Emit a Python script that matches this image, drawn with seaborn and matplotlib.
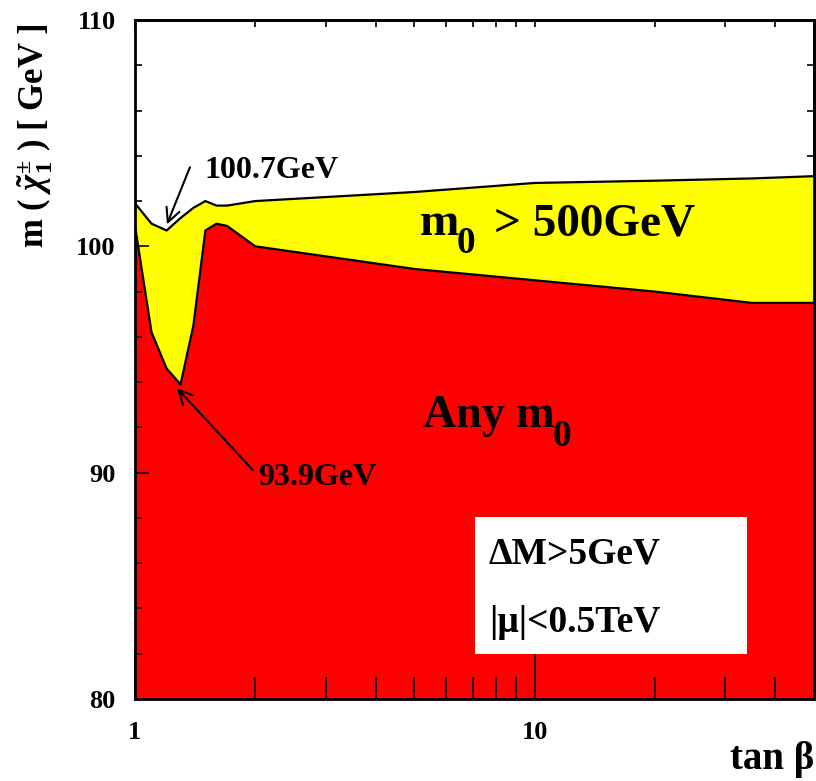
import numpy as np
import seaborn as sns
import matplotlib
matplotlib.use('Agg')
import matplotlib.pyplot as plt
from matplotlib.patches import Rectangle
from matplotlib.ticker import FixedLocator, NullFormatter
from matplotlib.transforms import offset_copy

# tan(beta) grid and chargino mass limits
tanb = [1.0, 1.1, 1.2, 1.3, 1.4, 1.5, 1.6, 1.7, 2.0, 5.0, 10.0, 20.0, 35.0, 50.0]
m_heavy_m0 = [101.9, 101.0, 100.7, 101.25, 101.7, 102.0, 101.8, 101.8, 102.0, 102.4, 102.8, 102.9, 103.0, 103.1]
m_any_m0 = [100.9, 96.2, 94.6, 93.9, 96.5, 100.7, 101.0, 100.9, 100.0, 99.0, 98.5, 98.0, 97.5, 97.5]

x_major = [1, 10]
x_minor = [2, 3, 4, 5, 6, 7, 8, 9, 20, 30, 40]
y_major = [80, 90, 100, 110]
y_minor = [82, 84, 86, 88, 92, 94, 96, 98, 102, 104, 106, 108]

sns.set_style('ticks')
plt.rcParams['font.family'] = ['Liberation Serif', 'DejaVu Serif']
plt.rcParams['font.weight'] = 'bold'
plt.rcParams['text.color'] = 'black'
plt.rcParams['axes.labelcolor'] = 'black'
plt.rcParams['xtick.color'] = 'black'
plt.rcParams['ytick.color'] = 'black'
plt.rcParams['mathtext.fontset'] = 'custom'
plt.rcParams['mathtext.rm'] = 'Liberation Serif:bold'
plt.rcParams['mathtext.it'] = 'Liberation Serif:italic:bold'
plt.rcParams['mathtext.bf'] = 'Liberation Serif:bold'

W, H = 816, 781
fig = plt.figure(figsize=(W / 100, H / 100), dpi=100)
ax = fig.add_axes([135 / W, (H - 699) / H, 679 / W, 679 / H])
ax.set_axisbelow(False)

ax.set_xscale('log')
ax.set_xlim(1, 50)
ax.set_ylim(80, 110)

ax.fill_between(tanb, 80, m_any_m0, color='#ff0000', lw=0, zorder=1)
ax.fill_between(tanb, m_any_m0, m_heavy_m0, color='#ffff00', lw=0, zorder=1)
sns.lineplot(x=tanb, y=m_any_m0, ax=ax, color='black', lw=1.6, sort=False, zorder=2)
sns.lineplot(x=tanb, y=m_heavy_m0, ax=ax, color='black', lw=1.6, sort=False, zorder=2)

# ticks
ax.xaxis.set_major_locator(FixedLocator(x_major))
ax.xaxis.set_minor_locator(FixedLocator(x_minor))
ax.xaxis.set_minor_formatter(NullFormatter())
ax.set_xticklabels([str(v) for v in x_major])
ax.yaxis.set_major_locator(FixedLocator(y_major))
ax.yaxis.set_minor_locator(FixedLocator(y_minor))
ax.set_yticklabels([str(v) for v in y_major])
ax.tick_params(axis='x', which='major', direction='in', length=33, width=1.2, pad=16,
               labelsize=19, top=False)
ax.tick_params(axis='x', which='minor', direction='in', length=16, width=1.2, top=False)
ax.tick_params(axis='y', which='major', direction='in', length=10, width=1.2, pad=14,
               labelsize=19, right=False)
ax.tick_params(axis='y', which='minor', direction='in', length=5, width=1.2, right=False)
for t in ax.get_xticklabels() + ax.get_yticklabels():
    t.set_fontweight('bold')

top = ax.secondary_xaxis('top')
top.xaxis.set_major_locator(FixedLocator(x_major))
top.xaxis.set_minor_locator(FixedLocator(x_minor))
top.xaxis.set_minor_formatter(NullFormatter())
top.tick_params(which='both', direction='in', length=5, width=1.2, labeltop=False)
right = ax.secondary_yaxis('right')
right.yaxis.set_major_locator(FixedLocator(y_major))
right.yaxis.set_minor_locator(FixedLocator(y_minor))
right.tick_params(which='major', direction='in', length=10, width=1.2, labelright=False)
right.tick_params(which='minor', direction='in', length=5, width=1.2)

for sp in list(ax.spines.values()) + [top.spines['top'], right.spines['right']]:
    sp.set_linewidth(2)
    sp.set_color('black')
    sp.set_zorder(5)

ax.set_xlabel('tan β', fontsize=28, fontweight='bold', ha='right')
ax.xaxis.set_label_coords(1.0, -0.062)
ax.set_ylabel(r'm ( $\tilde{\chi}^{\pm}_{1}$ ) [ GeV ]', fontsize=25, fontweight='bold', ha='right')
ax.yaxis.set_label_coords(-0.118, 0.995)


def with_subscript(x, y, main, rest, size, sub_size, dy_px, **kw):
    # draw "main" then a large lowered "0" subscript, then optional trailing text
    t = ax.text(x, y, main, fontsize=size, fontweight='bold', ha='left', va='baseline', zorder=4, **kw)
    fig.canvas.draw()
    bb = t.get_window_extent()
    tr = offset_copy(ax.transData, fig=fig, x=bb.width - 2, y=-dy_px, units='dots')
    s = ax.text(x, y, '0', fontsize=sub_size, fontweight='bold', ha='left', va='baseline',
                transform=tr, zorder=4)
    if rest:
        fig.canvas.draw()
        sb = s.get_window_extent()
        tr2 = offset_copy(ax.transData, fig=fig, x=sb.x1 - bb.x0 + 18, y=0, units='dots')
        ax.text(x, y, rest, fontsize=size, fontweight='bold', ha='left', va='baseline',
                transform=tr2, zorder=4)


# region labels
with_subscript(5.16, 100.49, 'm', '> 500GeV', 34, 27, 18)
with_subscript(5.25, 92.0, 'Any m', '', 33, 27, 19)

# minimum annotations
arrow = dict(arrowstyle='->', lw=1.5, color='black', mutation_scale=25, shrinkA=0, shrinkB=0)
ax.text(1.496, 103.0, '100.7GeV', fontsize=23, fontweight='bold', ha='left', va='baseline', zorder=4)
ax.annotate('', xy=(1.202, 100.97), xytext=(1.372, 103.49), arrowprops=arrow, zorder=4)
ax.text(2.03, 89.45, '93.9GeV', fontsize=23, fontweight='bold', ha='left', va='baseline', zorder=4)
ax.annotate('', xy=(1.274, 93.73), xytext=(1.973, 90.11), arrowprops=arrow, zorder=4)

# cut box
ax.add_patch(Rectangle((0.5007, 0.066), 0.4, 0.202, transform=ax.transAxes,
                       facecolor='white', edgecolor='none', zorder=3))
ax.text(0.521, 0.200, 'ΔM>5GeV', transform=ax.transAxes, fontsize=27, fontweight='bold',
        ha='left', va='baseline', zorder=4)
ax.text(0.521, 0.0987, '|μ|<0.5TeV', transform=ax.transAxes, fontsize=27, fontweight='bold',
        ha='left', va='baseline', zorder=4)

fig.savefig('out.png', dpi=100)
